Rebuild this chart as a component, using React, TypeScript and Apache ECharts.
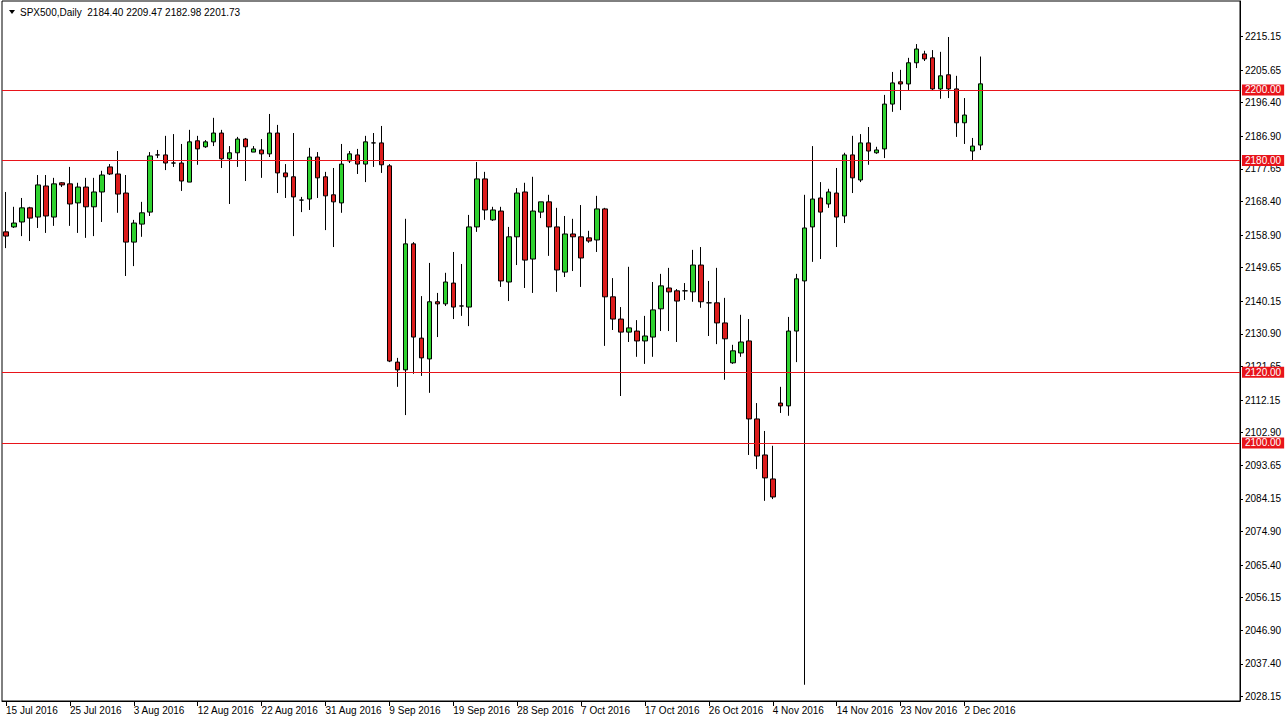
import React, { useEffect, useRef } from "react";
import * as echarts from "echarts";

const FONT = "Liberation Sans";

const dates = [
  "15 Jul 2016","17 Jul 2016","18 Jul 2016","19 Jul 2016","20 Jul 2016","21 Jul 2016","22 Jul 2016","24 Jul 2016","25 Jul 2016","26 Jul 2016","27 Jul 2016","28 Jul 2016","29 Jul 2016","31 Jul 2016",
  "1 Aug 2016","2 Aug 2016","3 Aug 2016","4 Aug 2016","5 Aug 2016","7 Aug 2016","8 Aug 2016","9 Aug 2016","10 Aug 2016","11 Aug 2016","12 Aug 2016","14 Aug 2016","15 Aug 2016","16 Aug 2016","17 Aug 2016","18 Aug 2016","19 Aug 2016","21 Aug 2016","22 Aug 2016","23 Aug 2016","24 Aug 2016","25 Aug 2016","26 Aug 2016","28 Aug 2016","29 Aug 2016","30 Aug 2016","31 Aug 2016",
  "1 Sep 2016","2 Sep 2016","4 Sep 2016","5 Sep 2016","6 Sep 2016","7 Sep 2016","8 Sep 2016","9 Sep 2016","11 Sep 2016","12 Sep 2016","13 Sep 2016","14 Sep 2016","15 Sep 2016","16 Sep 2016","18 Sep 2016","19 Sep 2016","20 Sep 2016","21 Sep 2016","22 Sep 2016","23 Sep 2016","25 Sep 2016","26 Sep 2016","27 Sep 2016","28 Sep 2016","29 Sep 2016","30 Sep 2016",
  "2 Oct 2016","3 Oct 2016","4 Oct 2016","5 Oct 2016","6 Oct 2016","7 Oct 2016","9 Oct 2016","10 Oct 2016","11 Oct 2016","12 Oct 2016","13 Oct 2016","14 Oct 2016","16 Oct 2016","17 Oct 2016","18 Oct 2016","19 Oct 2016","20 Oct 2016","21 Oct 2016","23 Oct 2016","24 Oct 2016","25 Oct 2016","26 Oct 2016","27 Oct 2016","28 Oct 2016","30 Oct 2016","31 Oct 2016",
  "1 Nov 2016","2 Nov 2016","3 Nov 2016","4 Nov 2016","6 Nov 2016","7 Nov 2016","8 Nov 2016","9 Nov 2016","10 Nov 2016","11 Nov 2016","13 Nov 2016","14 Nov 2016","15 Nov 2016","16 Nov 2016","17 Nov 2016","18 Nov 2016","20 Nov 2016","21 Nov 2016","22 Nov 2016","23 Nov 2016","24 Nov 2016","25 Nov 2016","27 Nov 2016","28 Nov 2016","29 Nov 2016","30 Nov 2016",
  "1 Dec 2016","2 Dec 2016","4 Dec 2016","5 Dec 2016",
];

const opens = [
  2159.8,2161.2,2162.6,2166.6,2164.0,2172.8,2164.0,2173.7,2173.4,2168.0,
  2172.5,2166.9,2171.1,2178.2,2176.2,2170.8,2156.9,2162.0,2165.4,2181.6,
  2181.6,2179.3,2179.3,2173.9,2185.6,2183.9,2185.3,2187.8,2180.5,2182.2,
  2186.1,2182.4,2183.0,2181.9,2187.8,2176.5,2175.4,2168.8,2169.1,2181.0,
  2175.4,2170.3,2168.0,2179.9,2181.6,2179.0,2185.0,2185.0,2178.5,2122.9,
  2120.7,2156.4,2129.7,2123.8,2140.0,2139.4,2145.3,2138.8,2138.5,2161.2,
  2174.8,2163.2,2165.7,2145.6,2158.4,2171.1,2152.1,2165.4,2168.3,2161.2,
  2148.4,2159.2,2158.4,2158.1,2157.5,2166.3,2141.4,2135.1,2131.4,2131.7,
  2128.9,2130.0,2138.0,2143.9,2143.1,2143.1,2142.8,2150.4,2139.7,2139.7,
  2134.0,2122.7,2125.5,2128.9,2106.8,2096.6,2089.8,2111.3,2110.5,2131.7,
  2145.9,2161.2,2169.4,2167.7,2170.8,2164.3,2181.6,2174.5,2185.0,2182.2,
  2183.3,2196.0,2202.3,2201.7,2207.7,2210.2,2209.1,2200.3,2204.3,2200.3,
  2190.7,2182.7,2184.40,
];

const closes = [
  2158.6,2162.3,2166.6,2163.7,2173.1,2164.3,2173.4,2173.1,2167.7,2172.5,
  2166.9,2171.1,2175.9,2176.2,2170.5,2156.9,2162.3,2165.2,2181.3,2181.6,
  2179.3,2179.3,2174.2,2185.3,2183.3,2185.3,2187.8,2180.5,2182.2,2186.1,
  2183.9,2183.3,2181.9,2187.8,2176.5,2175.4,2169.7,2168.8,2181.0,2175.1,
  2170.0,2168.3,2179.0,2181.9,2179.0,2185.3,2185.0,2178.8,2123.2,2120.7,
  2156.4,2130.0,2124.1,2140.0,2139.4,2145.6,2138.5,2138.8,2161.2,2174.8,
  2166.0,2166.0,2145.9,2158.4,2170.8,2151.8,2165.7,2168.3,2161.2,2149.0,
  2159.2,2158.4,2152.4,2157.2,2166.3,2141.4,2135.1,2131.4,2132.6,2128.9,
  2130.3,2137.7,2144.5,2142.8,2140.2,2143.1,2150.4,2140.0,2139.7,2134.0,
  2129.5,2126.1,2128.6,2106.8,2096.3,2090.1,2084.7,2110.5,2131.7,2146.5,
  2160.9,2169.1,2165.4,2171.1,2164.0,2181.6,2175.1,2185.0,2182.7,2183.0,
  2196.0,2202.0,2201.7,2207.7,2211.6,2208.8,2200.3,2204.0,2200.3,2190.7,
  2192.9,2184.1,2201.73,
];

const lows = [
  2155.2,2160.9,2158.6,2157.2,2160.9,2159.5,2161.5,2172.5,2161.5,2159.5,
  2158.1,2158.6,2162.6,2175.9,2165.2,2147.3,2150.1,2158.4,2164.3,2180.7,
  2177.3,2178.2,2171.4,2173.9,2178.8,2183.6,2184.1,2177.9,2167.7,2178.2,
  2174.2,2182.4,2175.1,2181.0,2170.8,2169.4,2158.6,2165.4,2166.0,2169.4,
  2160.3,2155.5,2165.2,2179.3,2176.2,2173.9,2178.2,2176.5,2122.9,2115.9,
  2107.9,2119.6,2119.0,2114.2,2130.0,2138.8,2135.1,2136.0,2133.1,2159.8,
  2163.2,2162.9,2144.2,2140.2,2150.4,2143.9,2142.5,2163.7,2153.0,2142.8,
  2147.0,2148.7,2144.2,2156.7,2154.1,2127.5,2132.0,2113.3,2128.6,2124.4,
  2122.4,2124.4,2131.7,2131.7,2128.6,2140.5,2140.0,2138.3,2130.3,2128.0,
  2117.9,2122.4,2124.4,2096.6,2092.6,2083.6,2084.1,2108.5,2107.7,2122.9,
  2031.5,2151.3,2152.1,2166.6,2155.5,2162.3,2170.8,2173.9,2178.8,2181.9,
  2180.7,2193.8,2194.3,2200.0,2206.2,2208.2,2200.0,2197.5,2197.7,2186.7,
  2184.7,2179.9,2182.98,
];

const highs = [
  2171.1,2166.9,2169.4,2166.9,2175.9,2175.9,2175.1,2173.9,2178.2,2173.7,
  2175.1,2175.1,2177.1,2179.0,2182.7,2175.9,2163.2,2168.3,2182.4,2183.0,
  2187.0,2187.5,2184.7,2188.7,2187.0,2185.8,2192.1,2188.7,2184.1,2186.7,
  2186.4,2184.1,2186.1,2193.2,2190.1,2179.0,2187.8,2169.7,2183.6,2182.4,
  2176.8,2177.9,2184.7,2182.7,2183.3,2187.0,2187.8,2189.8,2179.0,2124.1,
  2163.5,2156.9,2141.6,2151.0,2142.5,2148.2,2154.1,2150.7,2164.6,2179.6,
  2176.8,2166.9,2166.9,2161.2,2172.2,2173.7,2175.4,2168.3,2170.3,2166.6,
  2164.3,2163.5,2167.4,2160.1,2170.0,2166.6,2146.7,2138.5,2149.9,2134.8,
  2136.0,2145.6,2147.9,2149.6,2143.6,2145.3,2154.7,2155.5,2145.9,2149.6,
  2141.1,2127.8,2136.3,2135.1,2111.3,2103.4,2099.2,2115.9,2135.7,2147.9,
  2170.3,2184.1,2173.9,2172.0,2177.9,2182.2,2187.0,2187.5,2189.5,2183.9,
  2198.6,2205.1,2205.7,2209.1,2213.0,2211.1,2211.3,2210.8,2215.0,2204.0,
  2197.7,2186.4,2209.47,
];

const yTicks = [
  2215.15, 2205.65, 2196.40, 2186.90, 2177.65, 2168.40, 2158.90, 2149.65, 2140.15, 2130.90, 2121.65,
  2112.15, 2102.90, 2093.65, 2084.15, 2074.90, 2065.40, 2056.15, 2046.90, 2037.40, 2028.15,
];

const levels = [2200, 2180, 2120, 2100];
const symbolName = "SPX500,Daily";
const emptySlots = 32;

export default function App() {
  const ref = useRef<HTMLDivElement>(null);
  useEffect(() => {
    if (!ref.current) return;
    const chart = echarts.init(ref.current, null, { renderer: "svg" });
    const n = dates.length;
    const categories = dates.concat(Array.from({ length: emptySlots }, () => ""));
    const candles = dates.map((_, i) => [opens[i], closes[i], lows[i], highs[i]]);
    const last = n - 1;
    const header =
      `${symbolName}  ${opens[last].toFixed(2)} ${highs[last].toFixed(2)} ${lows[last].toFixed(2)} ${closes[last].toFixed(2)}`;
    const showIdx = (idx: number) => idx % 8 === 0 && idx < n;
    const RED = "#e8141a";
    chart.setOption({
      animation: false,
      backgroundColor: "#ffffff",
      textStyle: { fontFamily: FONT },
      title: {
        text: header,
        left: 20,
        top: 7,
        padding: 0,
        textStyle: { fontSize: 10, fontWeight: "normal", color: "#000", fontFamily: FONT },
      },
      graphic: [
        {
          type: "polygon",
          shape: { points: [[9, 10], [15, 10], [12, 14]] },
          style: { fill: "#000" },
          z: 100,
        },
      ],
      grid: {
        left: 2,
        top: 1,
        right: 45,
        bottom: 22,
        show: true,
        borderColor: "#000",
        borderWidth: 1,
        backgroundColor: "#fff",
      },
      xAxis: {
        type: "category",
        data: categories,
        boundaryGap: true,
        axisLine: { show: true, lineStyle: { color: "#000", width: 1 } },
        axisTick: {
          show: true,
          alignWithLabel: true,
          interval: (idx: number) => showIdx(idx),
          length: 5,
          lineStyle: { color: "#000" },
        },
        axisLabel: {
          show: true,
          interval: (idx: number) => showIdx(idx),
          align: "left",
          margin: 4,
          color: "#000",
          fontSize: 10,
          fontFamily: FONT,
        },
        splitLine: { show: false },
      },
      yAxis: {
        type: "value",
        position: "right",
        min: 2026.9,
        max: 2225.2,
        scale: true,
        axisLine: { show: true, lineStyle: { color: "#000", width: 1 } },
        axisTick: {
          show: true,
          length: 3,
          customValues: yTicks,
          lineStyle: { color: "#000" },
        },
        axisLabel: {
          show: true,
          customValues: yTicks,
          formatter: (v: number) => v.toFixed(2),
          margin: 5,
          color: "#000",
          fontSize: 10,
          fontFamily: FONT,
        },
        splitLine: { show: false },
      },
      series: [
        {
          type: "candlestick",
          data: candles,
          barWidth: 5,
          itemStyle: {
            color: "#2fd22f",
            color0: "#dc1c1c",
            borderColor: "#000",
            borderColor0: "#000",
            borderWidth: 1,
          },
          markLine: {
            silent: true,
            symbol: ["none", "none"],
            animation: false,
            lineStyle: { color: RED, width: 1, type: "solid" },
            label: {
              show: true,
              position: "end",
              distance: 2,
              formatter: (p: any) => Number(p.value).toFixed(2),
              color: "#fff",
              backgroundColor: RED,
              padding: [1, 3, 0, 3],
              lineHeight: 10,
              fontSize: 10,
              fontFamily: FONT,
            },
            data: [
              {
                yAxis: closes[last],
                lineStyle: { opacity: 0 },
                label: { backgroundColor: "#000", color: "#fff" },
              },
              ...levels.map((v) => ({ yAxis: v })),
            ],
          },
        },
      ],
    });
    return () => chart.dispose();
  }, []);
  return (
    <div
      ref={ref}
      style={{ position: "absolute", left: 0, top: 0, width: 1285, height: 723, background: "#fff" }}
    />
  );
}
